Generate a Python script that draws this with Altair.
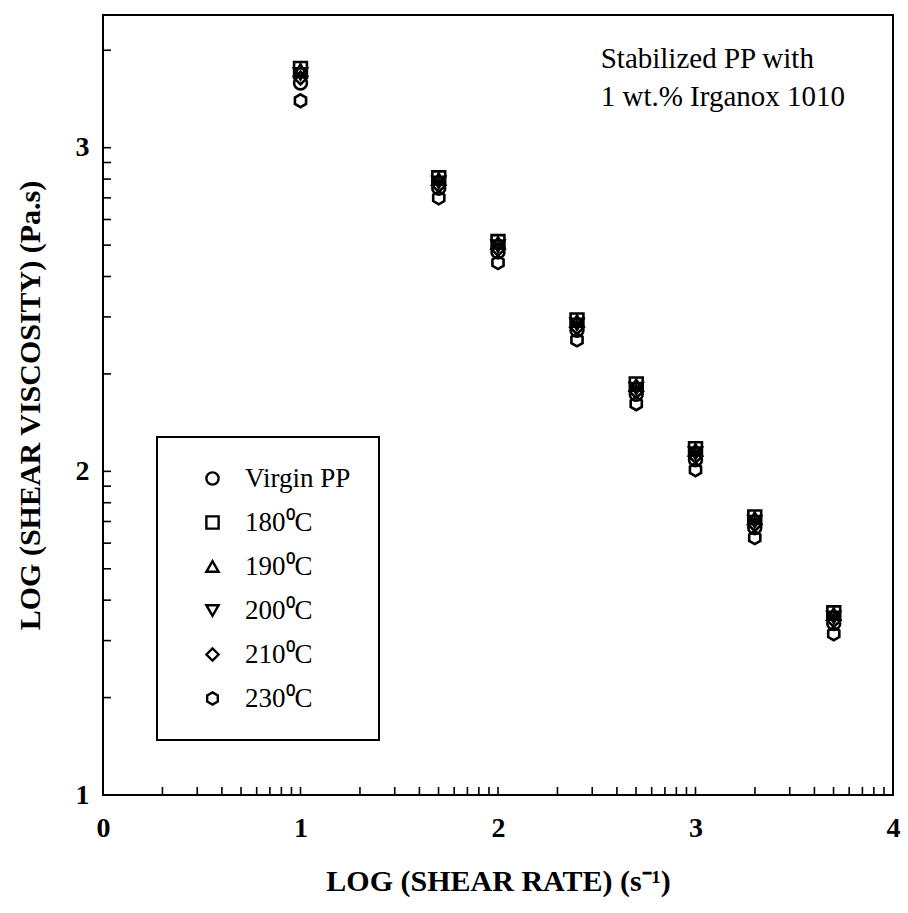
import altair as alt
import numpy as np
import pandas as pd

# --- data (log10 values) ---
log_shear_rate = [1.0, 1.7, 2.0, 2.4, 2.7, 3.0, 3.3, 3.7]
series_names = ["Virgin PP", "180⁰C", "190⁰C", "200⁰C", "210⁰C", "230⁰C"]
virgin_pp = [3.200, 2.875, 2.678, 2.436, 2.238, 2.036, 1.826, 1.530]
t180 = [3.245, 2.907, 2.710, 2.468, 2.270, 2.070, 1.859, 1.563]
t190 = [3.240, 2.903, 2.706, 2.464, 2.266, 2.066, 1.855, 1.559]
t200 = [3.228, 2.893, 2.696, 2.454, 2.256, 2.056, 1.845, 1.549]
t210 = [3.215, 2.883, 2.686, 2.444, 2.246, 2.046, 1.835, 1.539]
t230 = [3.145, 2.845, 2.645, 2.406, 2.209, 2.005, 1.795, 1.498]
series_values = [virgin_pp, t180, t190, t200, t210, t230]

x_major = [0, 1, 2, 3, 4]
y_major = [1, 2, 3]
tick_multipliers = [1, 2, 3, 4, 5, 6, 7, 8, 9]
x_decades = [0, 1, 2, 3]
y_decades = [1, 2, 3]
x_domain = [0, 4]
y_domain = [1, 3.41]

annotation = "Stabilized PP with\n1 wt.% Irganox 1010"
annot_pos = (2.52, 3.318)

hexagon = "M0,-1L0.866,-0.5L0.866,0.5L0,1L-0.866,0.5L-0.866,-0.5Z"
shapes = ["circle", "square", "triangle-up", "triangle-down", "diamond", hexagon]

rows = []
for name, vals in zip(series_names, series_values):
    for xv, yv in zip(log_shear_rate, vals):
        rows.append({"x": xv, "y": yv, "series": name})
df = pd.DataFrame(rows)

x_ticks = [float(np.log10(m * 10 ** d)) for d in x_decades for m in tick_multipliers] + [4.0]
y_ticks = [float(np.log10(m * 10 ** d)) for d in y_decades for m in tick_multipliers]
y_ticks = [v for v in y_ticks if v <= y_domain[1]]
xt = pd.DataFrame({"x": x_ticks})
yt = pd.DataFrame({"y": y_ticks})

W, H = 790, 780
FONT = "Liberation Serif"

xs = alt.Scale(domain=x_domain, nice=False, zero=False)
ys = alt.Scale(domain=y_domain, nice=False, zero=False)
x_axis = alt.Axis(values=x_major, title="LOG (SHEAR RATE) (s⁻¹)", labelFlush=False,
                  labelPadding=19, titleY=86, titleBaseline="middle")
y_axis = alt.Axis(values=y_major, title="LOG (SHEAR VISCOSITY) (Pa.s)", labelFlush=False,
                  labelPadding=14, titleX=-73, titleBaseline="middle")

points = alt.Chart(df).mark_point(filled=False, size=165, strokeWidth=2.6, color="black", opacity=1).encode(
    x=alt.X("x:Q", scale=xs, axis=x_axis),
    y=alt.Y("y:Q", scale=ys, axis=y_axis),
    shape=alt.Shape("series:N", scale=alt.Scale(domain=series_names, range=shapes),
                    legend=alt.Legend(title=None, orient="none", legendX=54, legendY=422,
                                      strokeColor="black", padding=28, rowPadding=16,
                                      labelFontSize=27, labelFont=FONT, labelOffset=19,
                                      symbolOffset=14, symbolSize=150, symbolStrokeWidth=2.4,
                                      symbolStrokeColor="black", symbolType="circle")),
)

xtick_layer = alt.Chart(xt).mark_rule(color="black", strokeWidth=1.6).encode(
    x=alt.X("x:Q", scale=xs, axis=x_axis), y=alt.value(H), y2=alt.value(H - 8)
)
ytick_layer = alt.Chart(yt).mark_rule(color="black", strokeWidth=1.6).encode(
    y=alt.Y("y:Q", scale=ys, axis=y_axis), x=alt.value(0), x2=alt.value(8)
)

text_layer = alt.Chart(pd.DataFrame({"x": [annot_pos[0]], "y": [annot_pos[1]], "t": [annotation]})).mark_text(
    align="left", baseline="top", fontSize=29, font=FONT, lineBreak="\n", lineHeight=38, color="black"
).encode(x=alt.X("x:Q", scale=xs, axis=x_axis), y=alt.Y("y:Q", scale=ys, axis=y_axis), text="t:N")

chart = alt.layer(points, xtick_layer, ytick_layer, text_layer).properties(
    width=W, height=H, autosize="none",
    padding={"left": 103, "top": 15, "right": 15, "bottom": 118},
).configure_view(stroke="black", strokeWidth=2).configure_axis(
    grid=False, domain=False, ticks=False, labelFont=FONT, labelFontSize=28, labelFontWeight="bold",
    labelColor="black", titleFont=FONT, titleFontSize=30, titleFontWeight="bold", titleColor="black",
).configure_legend(strokeWidth=2)

chart.save("out.html", embed_options={"renderer": "svg", "actions": False})
